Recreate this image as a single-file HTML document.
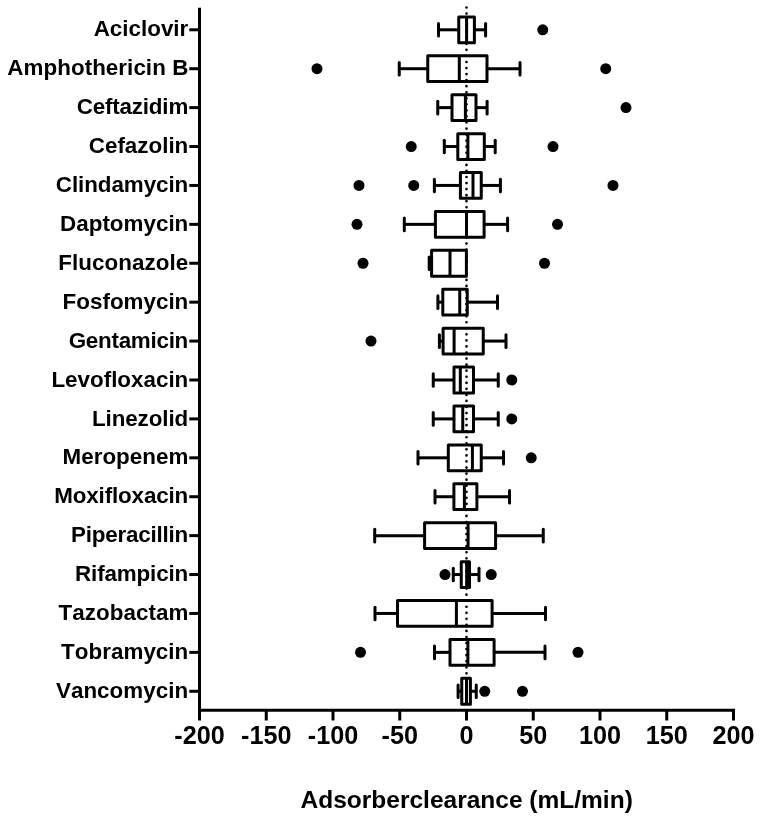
<!DOCTYPE html>
<html><head><meta charset="utf-8"><title>Adsorberclearance</title>
<style>html,body{margin:0;padding:0;background:#fff;overflow:hidden}svg{display:block}</style></head>
<body>
<svg width="760" height="826" viewBox="0 0 760 826">
<rect width="760" height="826" fill="#fff"/>
<g stroke="#000" stroke-width="3.0" fill="none" stroke-linecap="butt" stroke-linejoin="round">
<path d="M199.5 7.7 V711.8"/>
<path d="M198.0 710.3 H735.0"/>
<path d="M189.3 29.80 H199.5"/>
<path d="M189.3 68.71 H199.5"/>
<path d="M189.3 107.62 H199.5"/>
<path d="M189.3 146.53 H199.5"/>
<path d="M189.3 185.44 H199.5"/>
<path d="M189.3 224.35 H199.5"/>
<path d="M189.3 263.26 H199.5"/>
<path d="M189.3 302.17 H199.5"/>
<path d="M189.3 341.08 H199.5"/>
<path d="M189.3 379.99 H199.5"/>
<path d="M189.3 418.90 H199.5"/>
<path d="M189.3 457.81 H199.5"/>
<path d="M189.3 496.72 H199.5"/>
<path d="M189.3 535.63 H199.5"/>
<path d="M189.3 574.54 H199.5"/>
<path d="M189.3 613.45 H199.5"/>
<path d="M189.3 652.36 H199.5"/>
<path d="M189.3 691.27 H199.5"/>
<path d="M199.50 710.3 V720.5"/>
<path d="M266.25 710.3 V720.5"/>
<path d="M333.00 710.3 V720.5"/>
<path d="M399.75 710.3 V720.5"/>
<path d="M466.50 710.3 V720.5"/>
<path d="M533.25 710.3 V720.5"/>
<path d="M600.00 710.3 V720.5"/>
<path d="M666.75 710.3 V720.5"/>
<path d="M733.50 710.3 V720.5"/>
<path d="M466.5 7.5 V707.3" stroke-dasharray="0 6.053" stroke-width="2.7" stroke-linecap="round"/>
<rect x="458.75" y="16.90" width="15.65" height="25.8"/>
<path d="M466.6 16.90 V42.70"/>
<path d="M438.5 29.80 H458.75"/><path d="M438.5 23.50 V36.10" stroke-linecap="round"/>
<path d="M474.4 29.80 H485.6"/><path d="M485.6 23.50 V36.10" stroke-linecap="round"/>
<rect x="427.75" y="55.81" width="59.25" height="25.8"/>
<path d="M459.3 55.81 V81.61"/>
<path d="M399.25 68.71 H427.75"/><path d="M399.25 62.41 V75.01" stroke-linecap="round"/>
<path d="M487.0 68.71 H520"/><path d="M520 62.41 V75.01" stroke-linecap="round"/>
<rect x="452" y="94.72" width="24.00" height="25.8"/>
<path d="M465.4 94.72 V120.52"/>
<path d="M437.75 107.62 H452"/><path d="M437.75 101.32 V113.92" stroke-linecap="round"/>
<path d="M476 107.62 H487.1"/><path d="M487.1 101.32 V113.92" stroke-linecap="round"/>
<rect x="457.8" y="133.63" width="26.50" height="25.8"/>
<path d="M467.9 133.63 V159.43"/>
<path d="M444.3 146.53 H457.8"/><path d="M444.3 140.23 V152.83" stroke-linecap="round"/>
<path d="M484.3 146.53 H495.2"/><path d="M495.2 140.23 V152.83" stroke-linecap="round"/>
<rect x="460.4" y="172.54" width="20.85" height="25.8"/>
<path d="M473 172.54 V198.34"/>
<path d="M434.4 185.44 H460.4"/><path d="M434.4 179.14 V191.74" stroke-linecap="round"/>
<path d="M481.25 185.44 H500.4"/><path d="M500.4 179.14 V191.74" stroke-linecap="round"/>
<rect x="435.4" y="211.45" width="48.70" height="25.8"/>
<path d="M466.5 211.45 V237.25"/>
<path d="M404.3 224.35 H435.4"/><path d="M404.3 218.05 V230.65" stroke-linecap="round"/>
<path d="M484.1 224.35 H507.6"/><path d="M507.6 218.05 V230.65" stroke-linecap="round"/>
<rect x="431.6" y="250.36" width="34.80" height="25.8"/>
<path d="M450 250.36 V276.16"/>
<path d="M429.2 263.26 H431.6"/><path d="M429.2 256.96 V269.56" stroke-linecap="round"/>
<rect x="442.8" y="289.27" width="24.45" height="25.8"/>
<path d="M459.75 289.27 V315.07"/>
<path d="M437.9 302.17 H442.8"/><path d="M437.9 295.87 V308.47" stroke-linecap="round"/>
<path d="M467.25 302.17 H497.5"/><path d="M497.5 295.87 V308.47" stroke-linecap="round"/>
<rect x="443.1" y="328.18" width="40.15" height="25.8"/>
<path d="M454.1 328.18 V353.98"/>
<path d="M439.4 341.08 H443.1"/><path d="M439.4 334.78 V347.38" stroke-linecap="round"/>
<path d="M483.25 341.08 H506"/><path d="M506 334.78 V347.38" stroke-linecap="round"/>
<rect x="454" y="367.09" width="19.50" height="25.8"/>
<path d="M460.3 367.09 V392.89"/>
<path d="M433.25 379.99 H454"/><path d="M433.25 373.69 V386.29" stroke-linecap="round"/>
<path d="M473.5 379.99 H498.25"/><path d="M498.25 373.69 V386.29" stroke-linecap="round"/>
<rect x="454" y="406.00" width="19.50" height="25.8"/>
<path d="M462.75 406.00 V431.80"/>
<path d="M433.25 418.90 H454"/><path d="M433.25 412.60 V425.20" stroke-linecap="round"/>
<path d="M473.5 418.90 H498.25"/><path d="M498.25 412.60 V425.20" stroke-linecap="round"/>
<rect x="448.3" y="444.91" width="32.95" height="25.8"/>
<path d="M472.4 444.91 V470.71"/>
<path d="M418 457.81 H448.3"/><path d="M418 451.51 V464.11" stroke-linecap="round"/>
<path d="M481.25 457.81 H503.5"/><path d="M503.5 451.51 V464.11" stroke-linecap="round"/>
<rect x="453.9" y="483.82" width="23.00" height="25.8"/>
<path d="M464.4 483.82 V509.62"/>
<path d="M435 496.72 H453.9"/><path d="M435 490.42 V503.02" stroke-linecap="round"/>
<path d="M476.9 496.72 H509.5"/><path d="M509.5 490.42 V503.02" stroke-linecap="round"/>
<rect x="424.6" y="522.73" width="71.00" height="25.8"/>
<path d="M468.1 522.73 V548.53"/>
<path d="M374.7 535.63 H424.6"/><path d="M374.7 529.33 V541.93" stroke-linecap="round"/>
<path d="M495.6 535.63 H543.25"/><path d="M543.25 529.33 V541.93" stroke-linecap="round"/>
<rect x="461.25" y="561.64" width="8.25" height="25.8"/>
<path d="M466.7 561.64 V587.44"/>
<path d="M453.25 574.54 H461.25"/><path d="M453.25 568.24 V580.84" stroke-linecap="round"/>
<path d="M469.5 574.54 H479"/><path d="M479 568.24 V580.84" stroke-linecap="round"/>
<rect x="397.5" y="600.55" width="94.60" height="25.8"/>
<path d="M456.4 600.55 V626.35"/>
<path d="M375 613.45 H397.5"/><path d="M375 607.15 V619.75" stroke-linecap="round"/>
<path d="M492.1 613.45 H545.5"/><path d="M545.5 607.15 V619.75" stroke-linecap="round"/>
<rect x="450" y="639.46" width="44.10" height="25.8"/>
<path d="M467.9 639.46 V665.26"/>
<path d="M434.5 652.36 H450"/><path d="M434.5 646.06 V658.66" stroke-linecap="round"/>
<path d="M494.1 652.36 H545"/><path d="M545 646.06 V658.66" stroke-linecap="round"/>
<rect x="461.75" y="678.37" width="8.65" height="25.8"/>
<path d="M466.5 678.37 V704.17"/>
<path d="M458.1 691.27 H461.75"/><path d="M458.1 684.97 V697.57" stroke-linecap="round"/>
<path d="M470.4 691.27 H476.25"/><path d="M476.25 684.97 V697.57" stroke-linecap="round"/>
</g>
<g fill="#000">
<circle cx="542.75" cy="29.80" r="5.5"/>
<circle cx="317" cy="68.71" r="5.5"/>
<circle cx="605.75" cy="68.71" r="5.5"/>
<circle cx="626" cy="107.62" r="5.5"/>
<circle cx="411.25" cy="146.53" r="5.5"/>
<circle cx="553" cy="146.53" r="5.5"/>
<circle cx="359" cy="185.44" r="5.5"/>
<circle cx="413.75" cy="185.44" r="5.5"/>
<circle cx="613" cy="185.44" r="5.5"/>
<circle cx="357" cy="224.35" r="5.5"/>
<circle cx="557.5" cy="224.35" r="5.5"/>
<circle cx="363" cy="263.26" r="5.5"/>
<circle cx="544.5" cy="263.26" r="5.5"/>
<circle cx="371" cy="341.08" r="5.5"/>
<circle cx="511.75" cy="379.99" r="5.5"/>
<circle cx="511.75" cy="418.90" r="5.5"/>
<circle cx="531.25" cy="457.81" r="5.5"/>
<circle cx="445" cy="574.54" r="5.5"/>
<circle cx="491.25" cy="574.54" r="5.5"/>
<circle cx="360.5" cy="652.36" r="5.5"/>
<circle cx="578" cy="652.36" r="5.5"/>
<circle cx="484.75" cy="691.27" r="5.5"/>
<circle cx="522.5" cy="691.27" r="5.5"/>
</g>
<g font-family="Liberation Sans, Arial, sans-serif" font-weight="bold" font-size="22.4" fill="#000" style="font-kerning:none">
<text x="93.70" y="36.40" textLength="94.6" lengthAdjust="spacing">Aciclovir</text>
<text x="7.30" y="75.31" textLength="181.0" lengthAdjust="spacing">Amphothericin B</text>
<text x="76.80" y="114.22" textLength="111.5" lengthAdjust="spacing">Ceftazidim</text>
<text x="88.80" y="153.13" textLength="99.5" lengthAdjust="spacing">Cefazolin</text>
<text x="55.80" y="192.04" textLength="132.5" lengthAdjust="spacing">Clindamycin</text>
<text x="60.10" y="230.95" textLength="128.2" lengthAdjust="spacing">Daptomycin</text>
<text x="58.30" y="269.86" textLength="130.0" lengthAdjust="spacing">Fluconazole</text>
<text x="62.60" y="308.77" textLength="125.7" lengthAdjust="spacing">Fosfomycin</text>
<text x="68.70" y="347.68" textLength="119.6" lengthAdjust="spacing">Gentamicin</text>
<text x="51.40" y="386.59" textLength="136.9" lengthAdjust="spacing">Levofloxacin</text>
<text x="91.90" y="425.50" textLength="96.4" lengthAdjust="spacing">Linezolid</text>
<text x="62.60" y="464.41" textLength="125.7" lengthAdjust="spacing">Meropenem</text>
<text x="54.20" y="503.32" textLength="134.1" lengthAdjust="spacing">Moxifloxacin</text>
<text x="71.10" y="542.23" textLength="117.2" lengthAdjust="spacing">Piperacillin</text>
<text x="75.00" y="581.14" textLength="113.3" lengthAdjust="spacing">Rifampicin</text>
<text x="58.55" y="620.05" textLength="129.75" lengthAdjust="spacing">Tazobactam</text>
<text x="61.05" y="658.96" textLength="127.25" lengthAdjust="spacing">Tobramycin</text>
<text x="55.90" y="697.87" textLength="132.4" lengthAdjust="spacing">Vancomycin</text>
<text x="199.50" y="743.6" text-anchor="middle" font-size="25.2">-200</text>
<text x="266.25" y="743.6" text-anchor="middle" font-size="25.2">-150</text>
<text x="333.00" y="743.6" text-anchor="middle" font-size="25.2">-100</text>
<text x="399.75" y="743.6" text-anchor="middle" font-size="25.2">-50</text>
<text x="466.50" y="743.6" text-anchor="middle" font-size="25.2">0</text>
<text x="533.25" y="743.6" text-anchor="middle" font-size="25.2">50</text>
<text x="600.00" y="743.6" text-anchor="middle" font-size="25.2">100</text>
<text x="666.75" y="743.6" text-anchor="middle" font-size="25.2">150</text>
<text x="733.50" y="743.6" text-anchor="middle" font-size="25.2">200</text>
<text x="466.7" y="808" text-anchor="middle" font-size="24.5">Adsorberclearance (mL/min)</text>
</g>
</svg>
</body></html>
